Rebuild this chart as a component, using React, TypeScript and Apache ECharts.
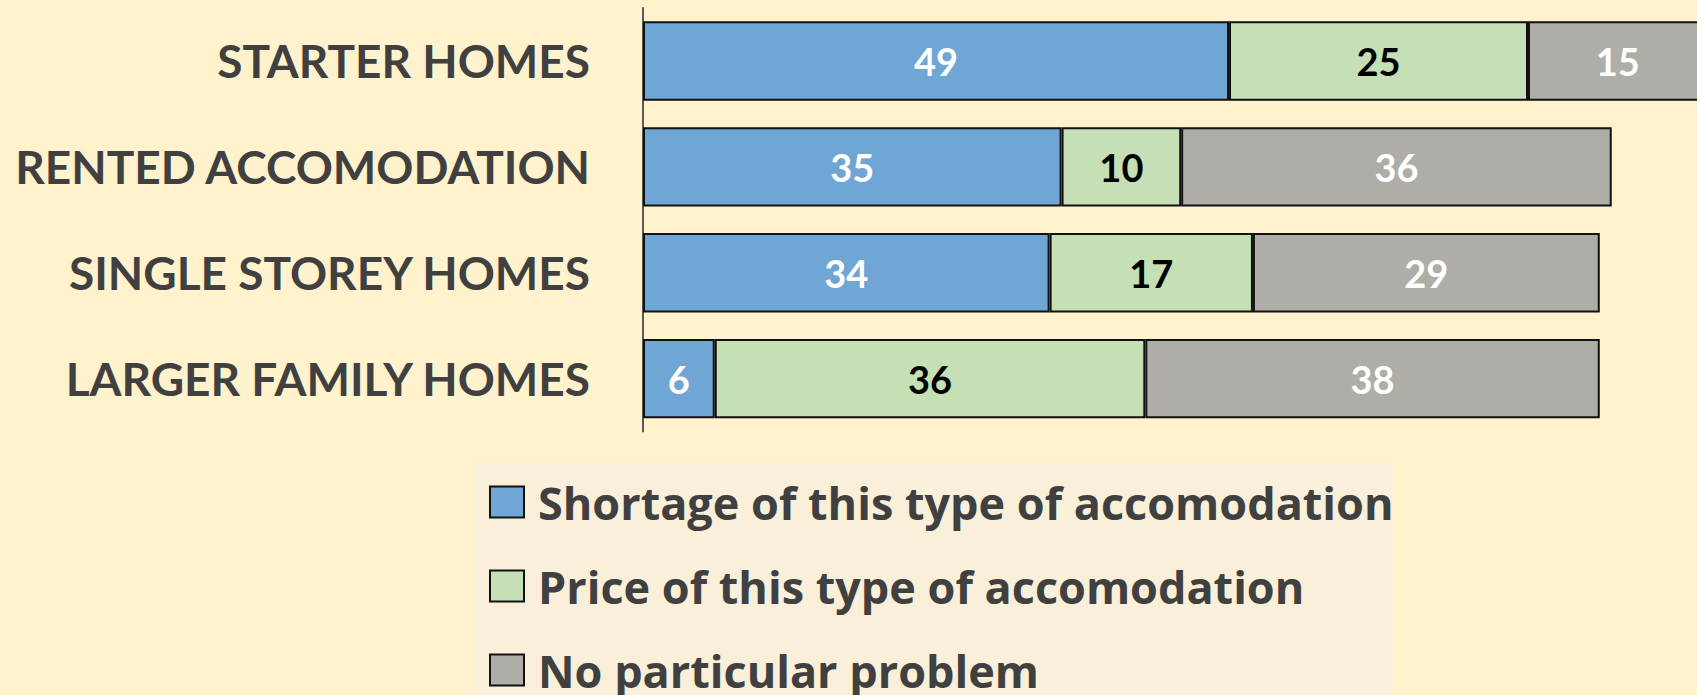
import { useEffect, useRef } from "react";
import * as echarts from "echarts";

const categories = ["STARTER HOMES", "RENTED ACCOMODATION", "SINGLE STOREY HOMES", "LARGER FAMILY HOMES"];
const seriesNames = [
  "Shortage of this type of accomodation",
  "Price of this type of accomodation",
  "No particular problem",
];
const shortage = [49, 35, 34, 6];
const price = [25, 10, 17, 36];
const noProblem = [15, 36, 29, 38];
const seriesValues = [shortage, price, noProblem];
const colors = ["#70A6D5", "#C5E0B4", "#AFADA8"];
const labelColors = ["#FFFFFF", "#000000", "#FFFFFF"];

export default function App() {
  const ref = useRef<HTMLDivElement>(null);
  useEffect(() => {
    if (!ref.current) return;
    const chart = echarts.init(ref.current, null, { renderer: "svg" });
    const font = "Lato";
    chart.setOption({
      animation: false,
      backgroundColor: "#FFF2CC",
      grid: {
        left: 643,
        right: -10.4,
        top: 8,
        bottom: 263.4,
        containLabel: false,
        outerBoundsMode: "none",
      },
      xAxis: { type: "value", min: 0, max: 89, show: false },
      yAxis: {
        type: "category",
        inverse: true,
        data: categories,
        axisLine: { show: true, lineStyle: { color: "#595959", width: 2 } },
        axisTick: { show: false },
        splitLine: { show: false },
        axisLabel: {
          fontSize: 46,
          fontWeight: "bold",
          fontFamily: font,
          color: "#404040",
          margin: 53,
        },
      },
      legend: {
        orient: "vertical",
        left: 489,
        top: 477,
        padding: 0,
        icon: "rect",
        itemWidth: 34,
        itemHeight: 31,
        itemGap: 34,
        itemStyle: { borderColor: "#111111", borderWidth: 2 },
        textStyle: {
          fontSize: 45,
          fontWeight: "bold",
          fontFamily: "Open Sans",
          color: "#404040",
          lineHeight: 50,
          padding: [0, 0, 0, 9],
        },
        data: seriesNames,
      },
      graphic: [
        {
          type: "rect",
          shape: { x: 473, y: 462.5, width: 920, height: 240 },
          style: { fill: "#FAF0DA" },
          z: 0,
        },
      ],
      series: seriesNames.map((name, i) => ({
        name,
        type: "bar",
        stack: "total",
        barCategoryGap: "25%",
        data: seriesValues[i],
        itemStyle: { color: colors[i], borderColor: "#111111", borderWidth: 2 },
        label: {
          show: true,
          position: "inside",
          color: labelColors[i],
          fontSize: 38,
          fontWeight: "bold",
          fontFamily: font,
        },
      })),
    });
    return () => chart.dispose();
  }, []);
  return (
    <div
      ref={ref}
      style={{ position: "fixed", left: 0, top: 0, width: 1697, height: 695 }}
    />
  );
}
